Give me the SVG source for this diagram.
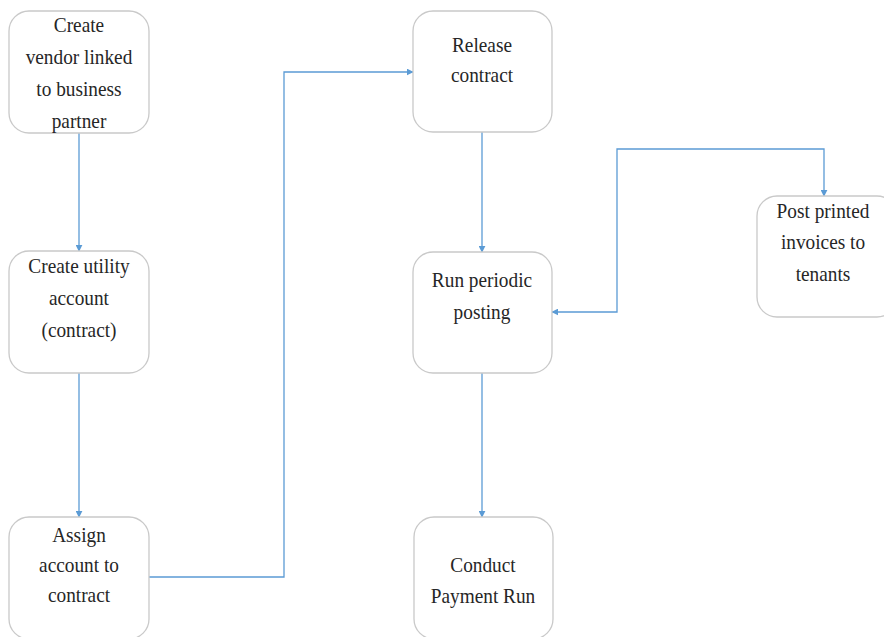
<svg xmlns="http://www.w3.org/2000/svg" width="884" height="637" viewBox="0 0 884 637">
  <defs>
    <style>
      .box { fill: #ffffff; stroke: #c9c9c9; stroke-width: 1.3; }
      .lbl { font-family: 'Liberation Serif', 'Times New Roman', serif; font-size: 21px; fill: #262626; text-anchor: middle; }
      .edge { fill: none; stroke: #5b9bd5; stroke-width: 1.3; }
    </style>
    <marker id="arrow" viewBox="0 0 10 10" refX="9" refY="5" markerWidth="7" markerHeight="7" orient="auto-start-reverse" markerUnits="userSpaceOnUse">
      <path d="M0,0 L10,5 L0,10 z" fill="#5b9bd5"/>
    </marker>
  </defs>

  <rect width="884" height="637" fill="#ffffff"/>

  <!-- connectors -->
  <g id="connectors">
    <path class="edge" d="M79,133 V251" marker-end="url(#arrow)"/>
    <path class="edge" d="M79,373 V517" marker-end="url(#arrow)"/>
    <path class="edge" d="M149,577 H284 V72 H413" marker-end="url(#arrow)"/>
    <path class="edge" d="M482,132 V252" marker-end="url(#arrow)"/>
    <path class="edge" d="M482,373 V517" marker-end="url(#arrow)"/>
    <path class="edge" d="M552,312 H617 V149 H824 V196" marker-start="url(#arrow)" marker-end="url(#arrow)"/>
  </g>

  <!-- nodes: labels are narrowed slightly around each box centre -->
  <g id="create-vendor">
    <rect class="box" x="9" y="11" width="140" height="122" rx="20"/>
    <g class="lbl" transform="matrix(0.92 0 0 1 6.32 0)">
      <text x="79" y="32">Create</text>
      <text x="79" y="64">vendor  linked</text>
      <text x="79" y="96">to business</text>
      <text x="79" y="128">partner</text>
    </g>
  </g>

  <g id="create-utility-account">
    <rect class="box" x="9" y="251" width="140" height="122" rx="20"/>
    <g class="lbl" transform="matrix(0.92 0 0 1 6.32 0)">
      <text x="79" y="273">Create utility</text>
      <text x="79" y="305">account</text>
      <text x="79" y="337">(contract)</text>
    </g>
  </g>

  <g id="assign-account">
    <rect class="box" x="9" y="517" width="140" height="122" rx="20"/>
    <g class="lbl" transform="matrix(0.92 0 0 1 6.32 0)">
      <text x="79" y="542">Assign</text>
      <text x="79" y="572">account to</text>
      <text x="79" y="602">contract</text>
    </g>
  </g>

  <g id="release-contract">
    <rect class="box" x="413" y="11" width="139" height="121" rx="20"/>
    <g class="lbl" transform="matrix(0.92 0 0 1 38.56 0)">
      <text x="482" y="52">Release</text>
      <text x="482" y="82">contract</text>
    </g>
  </g>

  <g id="run-periodic-posting">
    <rect class="box" x="413" y="252" width="139" height="121" rx="20"/>
    <g class="lbl" transform="matrix(0.92 0 0 1 38.56 0)">
      <text x="482" y="287">Run periodic</text>
      <text x="482" y="319">posting</text>
    </g>
  </g>

  <g id="conduct-payment-run">
    <rect class="box" x="414" y="517" width="139" height="122" rx="20"/>
    <g class="lbl" transform="matrix(0.92 0 0 1 38.64 0)">
      <text x="483" y="572">Conduct</text>
      <text x="483" y="603">Payment  Run</text>
    </g>
  </g>

  <g id="post-printed-invoices">
    <rect class="box" x="757" y="196" width="140" height="121" rx="20"/>
    <g class="lbl" transform="matrix(0.92 0 0 1 65.84 0)">
      <text x="823" y="218">Post printed</text>
      <text x="823" y="249">invoices  to</text>
      <text x="823" y="281">tenants</text>
    </g>
  </g>
</svg>
